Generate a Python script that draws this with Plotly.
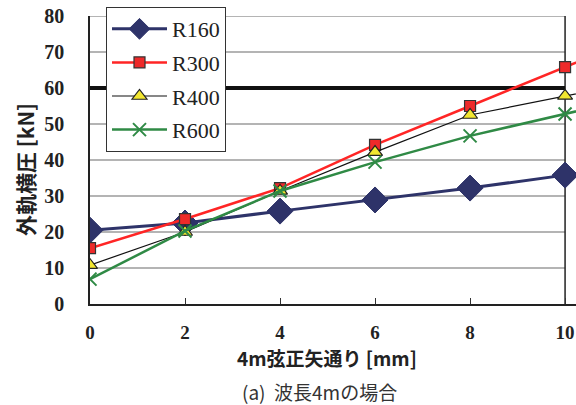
import plotly.graph_objects as go

x_vals = [0, 2, 4, 6, 8, 10, 12]
r160 = [20.5, 22.5, 25.8, 28.9, 32.2, 35.8, 39.4]
r300 = [15.5, 23.6, 32.2, 44.2, 55.0, 65.8, 76.6]
r400 = [10.8, 20.0, 31.4, 42.2, 52.5, 57.8, 63.0]
r600 = [6.9, 20.3, 31.4, 39.4, 46.7, 52.8, 58.9]
names = ["R160", "R300", "R400", "R600"]
y_ticks = [0, 10, 20, 30, 40, 50, 60, 70, 80]
x_ticks = [0, 2, 4, 6, 8, 10]
limit_value = 60

serif = "Liberation Serif, Times New Roman, serif"
cjk = "Noto Sans CJK JP"

fig = go.Figure()

for yv in y_ticks[1:]:
    fig.add_shape(type="line", xref="x", yref="y", x0=-0.05 if yv == 80 else 0, x1=10, y0=yv, y1=yv,
                  line=dict(color="#6a6a6a", width=1.2), layer="below")
fig.add_shape(type="line", xref="x", yref="y", x0=10, x1=10, y0=0, y1=80,
              line=dict(color="#222", width=1.5), layer="below")
fig.add_shape(type="line", xref="x", yref="y", x0=-0.05, x1=10, y0=limit_value, y1=limit_value,
              line=dict(color="#111", width=4), layer="below")

styles = [
    dict(line=dict(color="#2E3369", width=3),
         marker=dict(symbol="diamond", size=20, color="#2E3369", line=dict(color="#2E3369", width=1))),
    dict(line=dict(color="#FF2525", width=2.5),
         marker=dict(symbol="square", size=11, color="#EE2A2A", line=dict(color="#333", width=1.2))),
    dict(line=dict(color="#111", width=1.2),
         marker=dict(symbol="triangle-up", size=13, color="#F2E630", line=dict(color="#222", width=1.2))),
    dict(line=dict(color="#2F8A45", width=2.5),
         marker=dict(symbol="x-thin", size=13, color="#2F8A45", line=dict(color="#2F8A45", width=2))),
]
for i, (nm, ys) in enumerate(zip(names, [r160, r300, r400, r600])):
    fig.add_trace(go.Scatter(x=x_vals, y=ys, name=nm, mode="lines+markers",
                             legendgroup=f"g{i}", cliponaxis=True, **styles[i]))

fig.update_layout(
    width=576, height=405,
    margin=dict(l=90, r=0, t=16, b=101, autoexpand=False),
    plot_bgcolor="white", paper_bgcolor="white",
    showlegend=True,
    legend=dict(xref="container", yref="container",
                x=106 / 576, y=1 - 7 / 405, xanchor="left", yanchor="top",
                bgcolor="white", bordercolor="#333", borderwidth=1,
                font=dict(family=serif, size=22, color="#222"),
                traceorder="grouped", tracegroupgap=2, itemwidth=55),
    xaxis=dict(range=[0, 10.23], tickvals=x_ticks, showgrid=False, zeroline=False,
               showline=True, linecolor="#222", linewidth=1.5, automargin=False,
               ticks="inside", ticklen=6, tickcolor="#333",
               tickfont=dict(family=serif, size=19, color="#222", weight="bold"),
               ticklabelstandoff=10),
    yaxis=dict(range=[0, 80], tickvals=y_ticks, showgrid=False, zeroline=False,
               showline=True, linecolor="#222", linewidth=1.5, ticks="", automargin=False,
               tickfont=dict(family=serif, size=20, color="#222", weight="bold"),
               ticklabelstandoff=20),
    font=dict(family=serif),
)

fig.add_annotation(text="<b>4m弦正矢通り [mm]</b>", xref="paper", yref="paper",
                   x=(327 - 90) / 486, y=(304 - 357) / 288, xanchor="center", yanchor="middle",
                   showarrow=False, font=dict(family=cjk, size=19, color="#222"))
fig.add_annotation(text="(a)  波長4mの場合", xref="paper", yref="paper",
                   x=(319 - 90) / 486, y=(304 - 391) / 288, xanchor="center", yanchor="middle",
                   showarrow=False, font=dict(family=cjk, size=19, color="#333"))
fig.add_annotation(text="<b>外軌横圧 [kN]</b>", xref="paper", yref="paper",
                   x=(25 - 90) / 486, y=(304 - 170) / 288, xanchor="center", yanchor="middle",
                   textangle=-90, showarrow=False, font=dict(family=cjk, size=21, color="#222"))

fig.write_html("out.html", config={"displayModeBar": False},
               post_script="document.body.style.margin='0';document.body.style.padding='0';")
